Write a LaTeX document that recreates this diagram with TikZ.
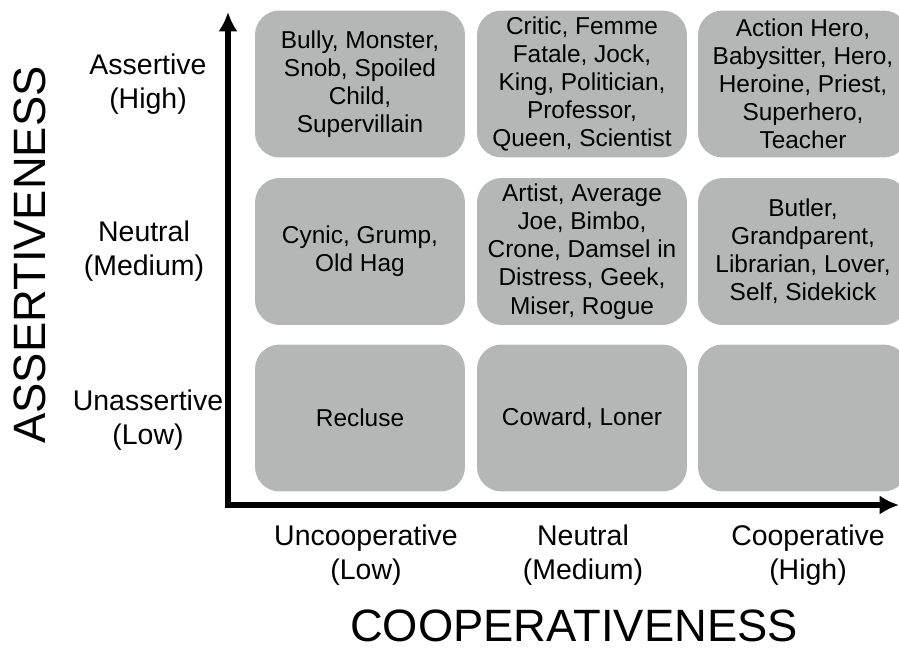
\documentclass[tikz,border=0pt]{standalone}
\usepackage{fontspec}
\setmainfont{Liberation Sans}
\usepackage{tikz}
\usetikzlibrary{arrows.meta}
\definecolor{boxgray}{RGB}{180,183,182}

\begin{document}
\begin{tikzpicture}[x=0.02cm,y=-0.02cm,
    cell/.style={fill=boxgray,rounded corners=14pt,minimum width=4.2cm,minimum height=2.94cm,
      align=center,inner sep=0pt,font=\fontsize{13.9}{16}\selectfont},
    lvl/.style={align=center,inner sep=0pt,font=\fontsize{16.2}{19}\selectfont},
    axistitle/.style={inner sep=0pt,font=\fontsize{25.8}{30}\selectfont}]
  \useasboundingbox (0,0) rectangle (899,649);
  \node[cell](hu)at(360,84){Bully, Monster,\\Snob, Spoiled\\Child,\\Supervillain};
  \node[cell](hn)at(582,84){Critic, Femme\\Fatale, Jock,\\King, Politician,\\Professor,\\Queen, Scientist};
  \node[cell](hc)at(803,84){Action Hero,\\Babysitter, Hero,\\Heroine, Priest,\\Superhero,\\Teacher};
  \node[cell](nu)at(360,251.5){Cynic, Grump,\\Old Hag};
  \node[cell](nn)at(582,251.5){Artist, Average\\Joe, Bimbo,\\Crone, Damsel in\\Distress, Geek,\\Miser, Rogue};
  \node[cell](nc)at(803,251.5){Butler,\\Grandparent,\\Librarian, Lover,\\Self, Sidekick};
  \node[cell](lu)at(360,418){Recluse};
  \node[cell](ln)at(582,418){Coward, Loner};
  \node[cell](lc)at(803,418){};
  \coordinate (o) at (228,505);
  \coordinate (ytip) at (228,12);
  \coordinate (xtip) at (899,505);
  \draw[line width=3.5pt,{Latex[length=11pt,width=11pt]}-{Latex[length=11pt,width=11pt]}] (ytip) -- (o) -- (xtip);
  \node[lvl](high)at(148,84){Assertive\\(High)};
  \node[lvl](med)at(144,251){Neutral\\(Medium)};
  \node[lvl](low)at(148,420){Unassertive\\(Low)};
  \node[lvl](unco)at(366,555){Uncooperative\\(Low)};
  \node[lvl](neut)at(583,555){Neutral\\(Medium)};
  \node[lvl](coop)at(808,555){Cooperative\\(High)};
  \node[axistitle,rotate=90](ass)at(30,255){ASSERTIVENESS};
  \node[axistitle](coo)at(574,626){COOPERATIVENESS};
\end{tikzpicture}
\end{document}
